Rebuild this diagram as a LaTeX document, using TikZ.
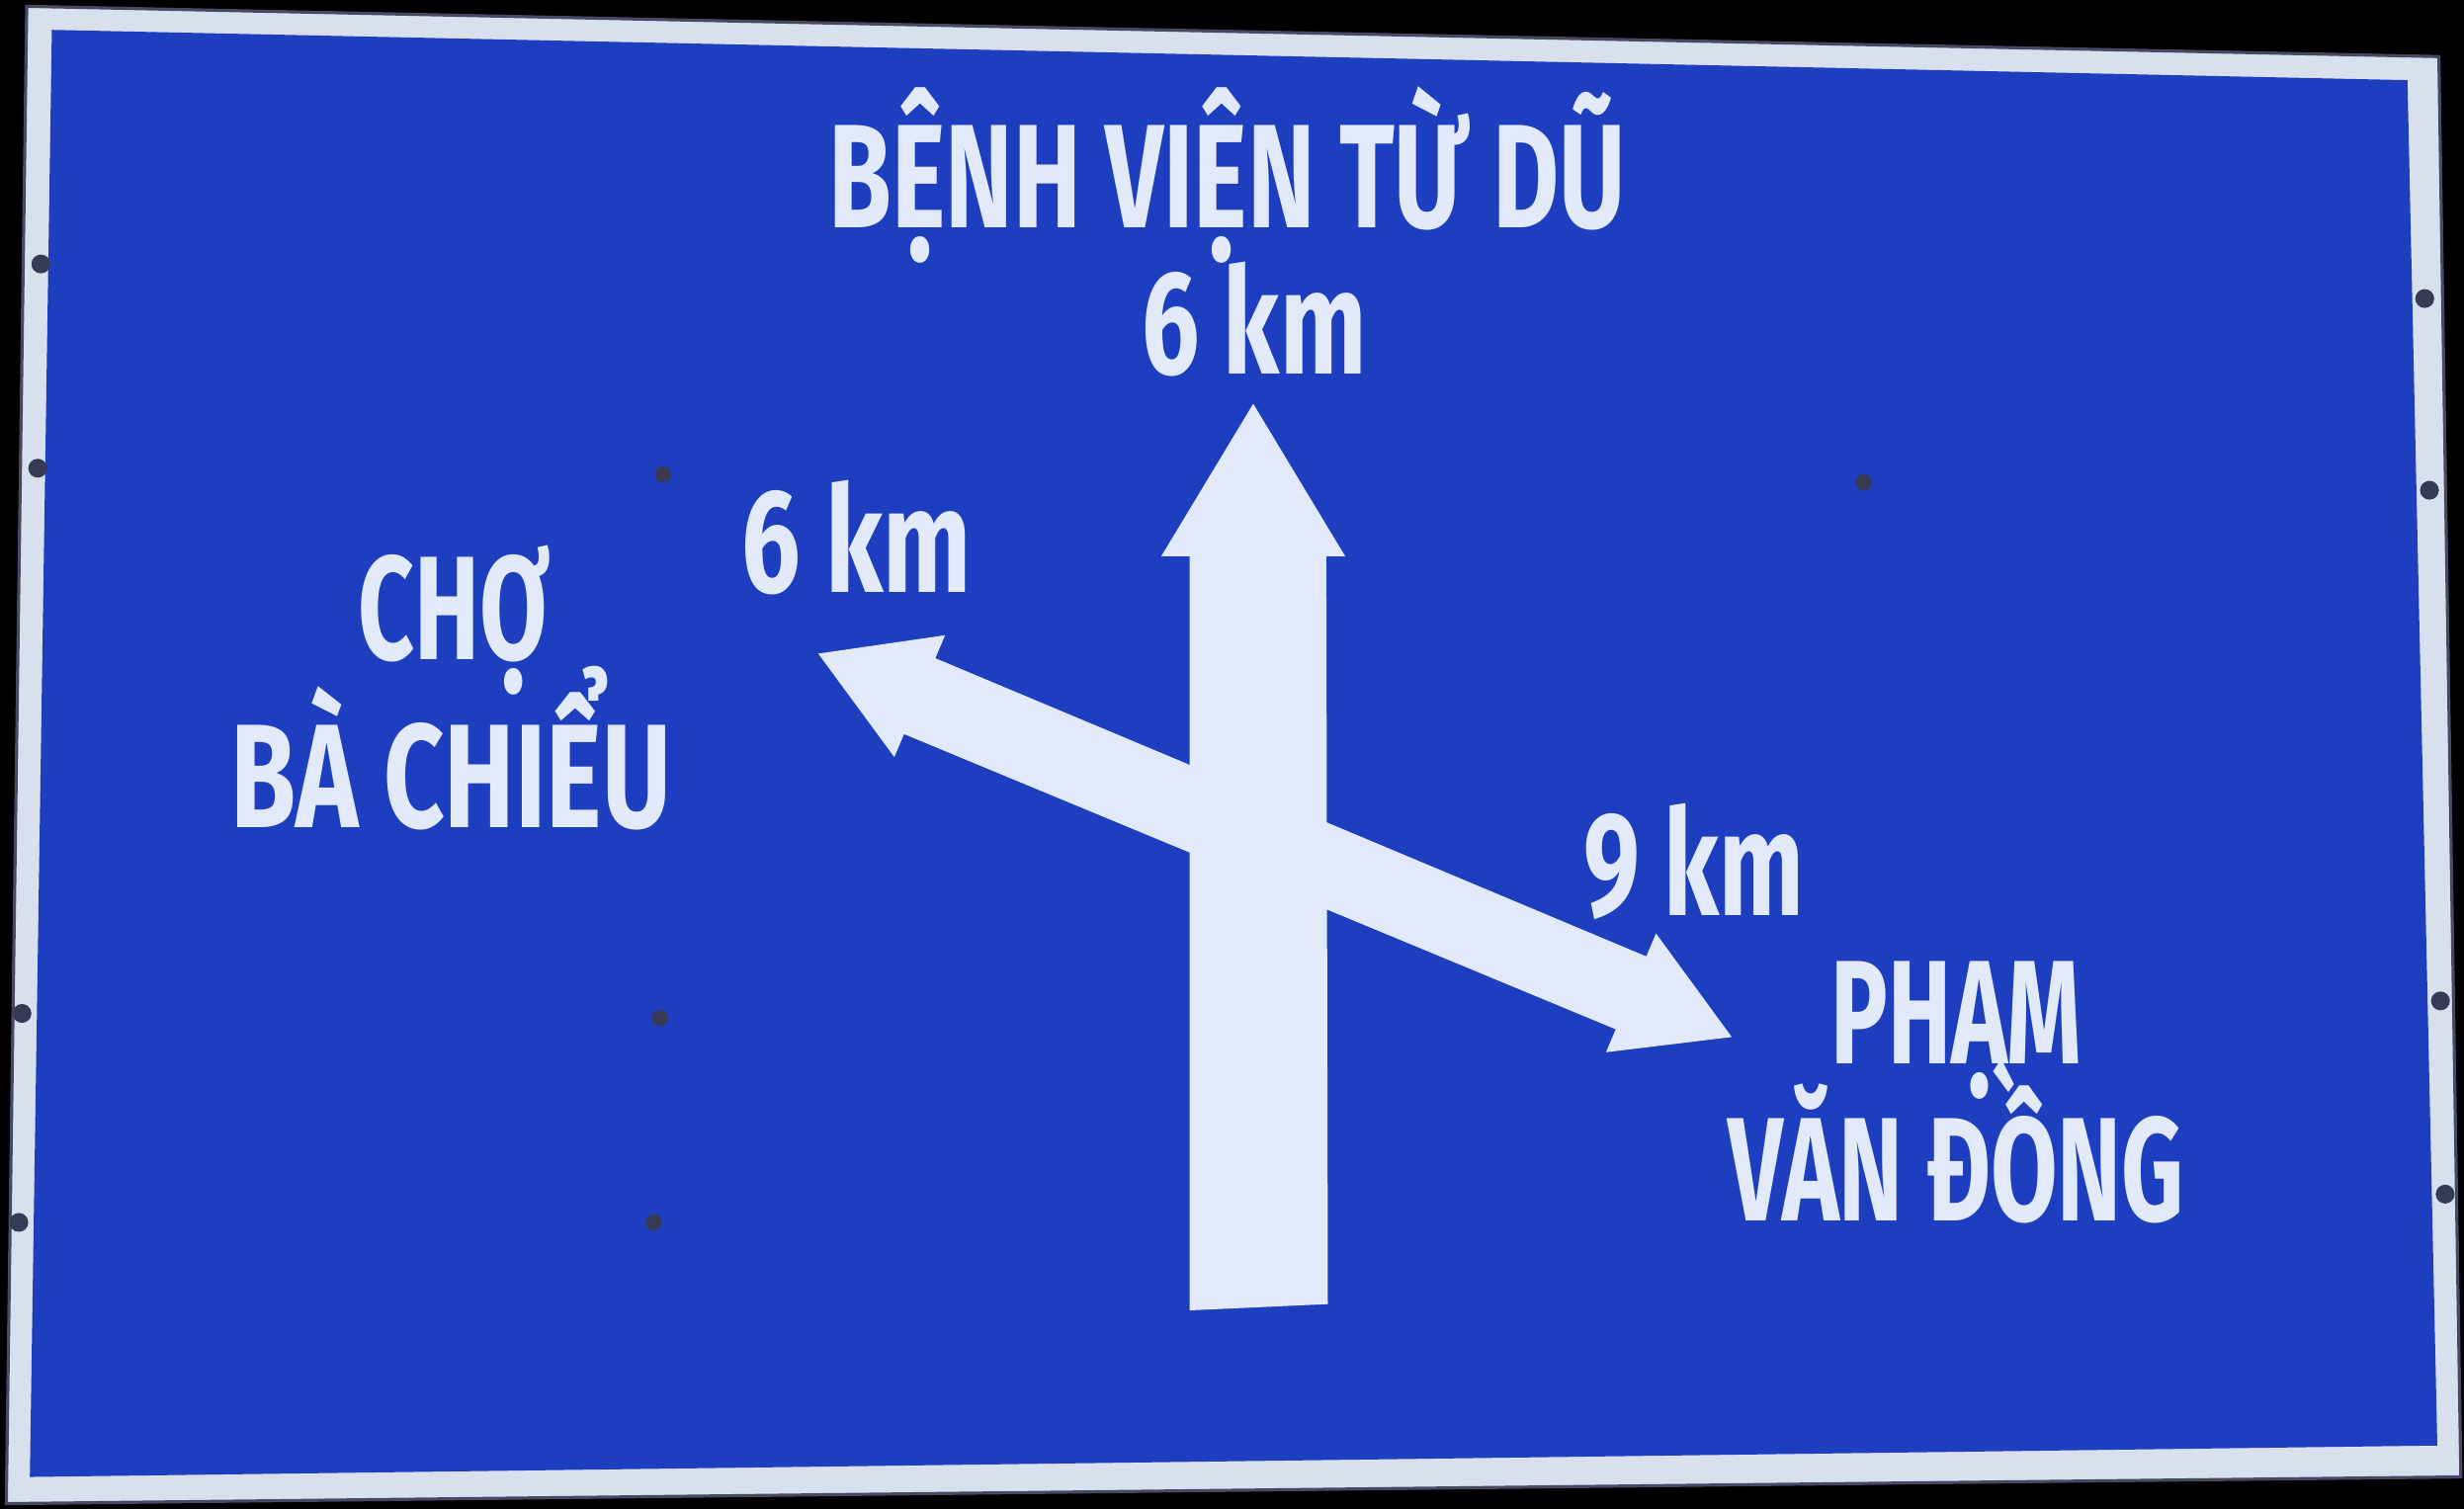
\documentclass[tikz,border=0pt]{standalone}
\usepackage{fontspec}
\setmainfont{Fira Sans}
\usepackage{graphicx}
\definecolor{signblue}{RGB}{30,62,192}
\definecolor{signwhite}{RGB}{226,234,250}
\definecolor{borderwhite}{RGB}{216,224,238}
\definecolor{edgegrey}{RGB}{70,72,100}
\definecolor{boltgrey}{RGB}{55,58,85}
\newcommand{\signtext}[2]{\resizebox{#1}{\height}{\bfseries #2}}
\begin{document}
\begin{tikzpicture}[x=0.5pt,y=-0.5pt,
  lbl/.style={text=signwhite, inner sep=0pt, anchor=base, font=\fontsize{47}{50}\selectfont},
  bolt/.style={fill=boltgrey}]
% background
\fill[black] (0,0) rectangle (1568,960.4);
\useasboundingbox (0,0) rectangle (1568,960.4);
% sign border
\filldraw[fill=borderwhite, draw=edgegrey, line width=1pt] (17,4) -- (1552,36) -- (1566,940) -- (4,957) -- cycle;
% blue panel
\fill[signblue] (33,19) -- (1532,51) -- (1551,920) -- (19,940) -- cycle;
% bolts on border
\foreach \p in {(26,168),(24,298),(14,645),(12,778),(1543,190),(1546,312),(1553,637),(1556,760)}
  \fill[bolt] \p circle (3pt);
% bolts on panel
\foreach \p in {(422,302),(420,648),(416,778),(1186,307)}
  \fill[bolt] \p circle (2.6pt);
% vertical arrow
\fill[signwhite] (757,834) -- (757,354) -- (739,354) -- (797.5,257) -- (856,354) -- (844,354) -- (845,830) -- cycle;
% diagonal double arrow
\coordinate (tl) at (520.7,416);
\coordinate (tr) at (1102,660);
\fill[signwhite] (tl) -- (601.4,404.3) -- (595.2,418.9) -- (1047.6,608.7) -- (1053.8,594.1) -- (tr)
  -- (1022.0,669.7) -- (1028.2,655.1) -- (575.3,467.2) -- (569.1,481.8) -- cycle;
% texts
\node[lbl] (benhvien) at (781,145) {\signtext{253.5pt}{BỆNH VIỆN TỪ DŨ}};
\node[lbl] (kmtop) at (798,238) {\signtext{71.5pt}{6 km}};
\node[lbl] (kmleft) at (545,377) {\signtext{73pt}{6 km}};
\node[lbl] (cho) at (289,420) {\signtext{61pt}{CHỢ}};
\node[lbl] (bachieu) at (287,527) {\signtext{140pt}{BÀ CHIỂU}};
\node[lbl] (kmright) at (1078,583) {\signtext{70pt}{9 km}};
\node[lbl] (pham) at (1245,677) {\signtext{80pt}{PHẠM}};
\node[lbl] (vandong) at (1245,777) {\signtext{145pt}{VĂN ĐỒNG}};
\end{tikzpicture}
\end{document}
